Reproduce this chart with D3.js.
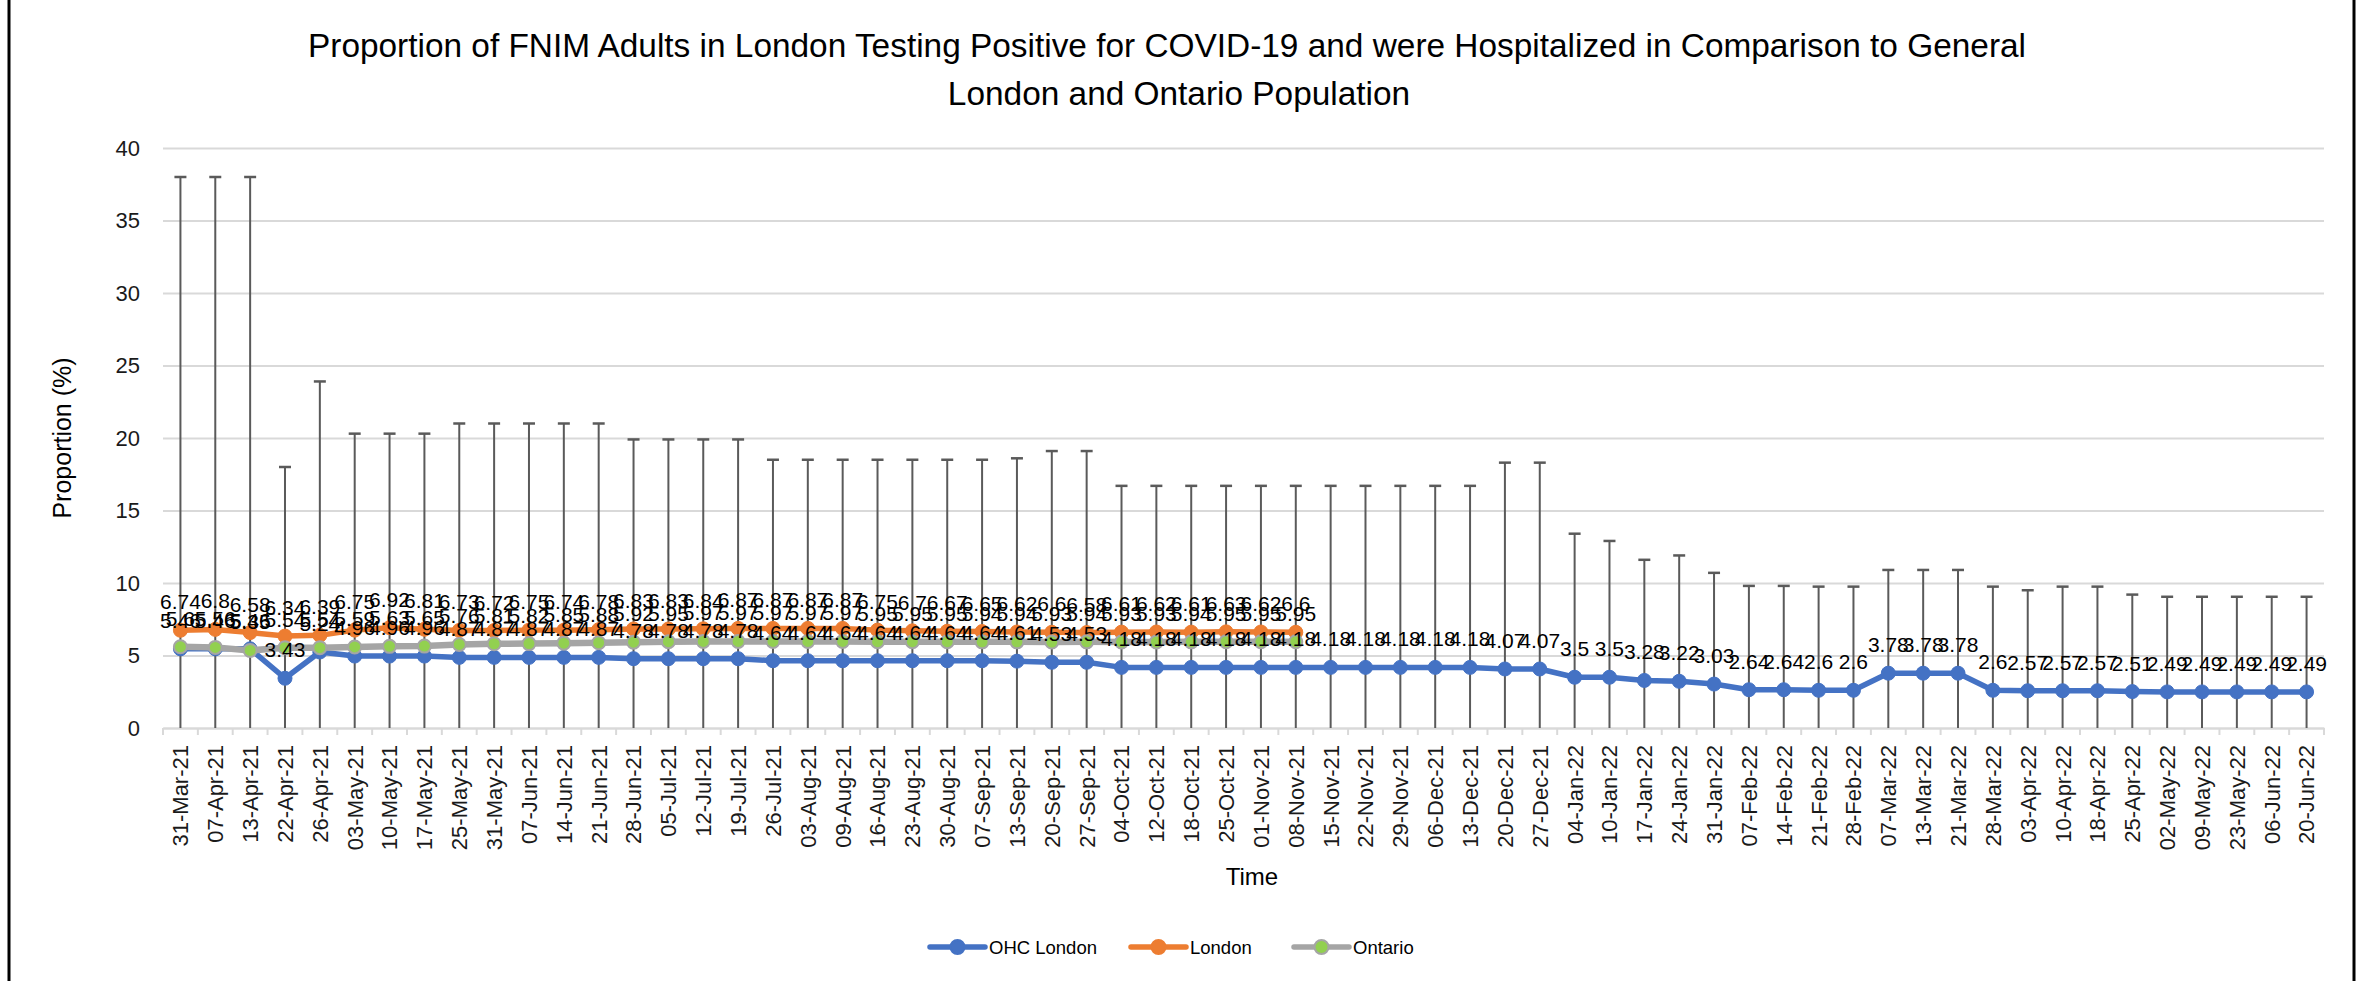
<!DOCTYPE html>
<html>
<head>
<meta charset="utf-8">
<script src="https://cdn.jsdelivr.net/npm/d3@7"></script>
<style>
  html, body { margin: 0; padding: 0; background: #fff; }
  svg { display: block; font-family: "Liberation Sans", Arial, sans-serif; }
</style>
</head>
<body>
<svg id="chart" width="2359" height="981"></svg>
<script>
// ---------------- DATA ----------------
const categories = [
  "31-Mar-21","07-Apr-21","13-Apr-21","22-Apr-21","26-Apr-21","03-May-21","10-May-21","17-May-21",
  "25-May-21","31-May-21","07-Jun-21","14-Jun-21","21-Jun-21","28-Jun-21","05-Jul-21","12-Jul-21",
  "19-Jul-21","26-Jul-21","03-Aug-21","09-Aug-21","16-Aug-21","23-Aug-21","30-Aug-21","07-Sep-21",
  "13-Sep-21","20-Sep-21","27-Sep-21","04-Oct-21","12-Oct-21","18-Oct-21","25-Oct-21","01-Nov-21",
  "08-Nov-21","15-Nov-21","22-Nov-21","29-Nov-21","06-Dec-21","13-Dec-21","20-Dec-21","27-Dec-21",
  "04-Jan-22","10-Jan-22","17-Jan-22","24-Jan-22","31-Jan-22","07-Feb-22","14-Feb-22","21-Feb-22",
  "28-Feb-22","07-Mar-22","13-Mar-22","21-Mar-22","28-Mar-22","03-Apr-22","10-Apr-22","18-Apr-22",
  "25-Apr-22","02-May-22","09-May-22","23-May-22","06-Jun-22","20-Jun-22"
];

const ohcLondon = [
  5.46, 5.46, 5.46, 3.43, 5.24, 4.96, 4.96, 4.96,
  4.87, 4.87, 4.87, 4.87, 4.87, 4.78, 4.78, 4.78,
  4.78, 4.64, 4.64, 4.64, 4.64, 4.64, 4.64, 4.64,
  4.61, 4.53, 4.53, 4.18, 4.18, 4.18, 4.18, 4.18,
  4.18, 4.18, 4.18, 4.18, 4.18, 4.18, 4.07, 4.07,
  3.5, 3.5, 3.28, 3.22, 3.03, 2.64, 2.64, 2.6,
  2.6, 3.78, 3.78, 3.78, 2.6, 2.57, 2.57, 2.57,
  2.51, 2.49, 2.49, 2.49, 2.49, 2.49
];

// upper bound of the OHC London error bars (bars run from 0 up to this value)
const ohcUpper = [
  38, 38, 38, 18, 23.9, 20.3, 20.3, 20.3,
  21, 21, 21, 21, 21, 19.9, 19.9, 19.9,
  19.9, 18.5, 18.5, 18.5, 18.5, 18.5, 18.5, 18.5,
  18.6, 19.1, 19.1, 16.7, 16.7, 16.7, 16.7, 16.7,
  16.7, 16.7, 16.7, 16.7, 16.7, 16.7, 18.3, 18.3,
  13.4, 12.9, 11.6, 11.9, 10.7, 9.8, 9.8, 9.75,
  9.75, 10.9, 10.9, 10.9, 9.75, 9.5, 9.75, 9.75,
  9.2, 9.05, 9.05, 9.05, 9.05, 9.05
];

const london = [
  6.74, 6.8, 6.58, 6.34, 6.39, 6.75, 6.92, 6.81,
  6.73, 6.72, 6.75, 6.74, 6.78, 6.83, 6.83, 6.84,
  6.87, 6.87, 6.87, 6.87, 6.75, 6.7, 6.67, 6.65,
  6.62, 6.6, 6.58, 6.61, 6.62, 6.61, 6.63, 6.62,
  6.6
];

const ontario = [
  5.6, 5.56, 5.35, 5.54, 5.54, 5.59, 5.63, 5.65,
  5.76, 5.81, 5.82, 5.85, 5.88, 5.92, 5.95, 5.97,
  5.97, 5.97, 5.97, 5.97, 5.95, 5.95, 5.95, 5.94,
  5.94, 5.93, 5.94, 5.93, 5.93, 5.94, 5.95, 5.95,
  5.95
];

const yTicks = [0, 5, 10, 15, 20, 25, 30, 35, 40];
const seriesNames = ["OHC London", "London", "Ontario"];
const titleLines = [
  "Proportion of FNIM Adults in London Testing Positive for COVID-19 and were Hospitalized in Comparison to General",
  "London and Ontario Population"
];

// ---------------- LAYOUT ----------------
const W = 2359, H = 981;
const plot = { left: 163, right: 2324, top: 148, bottom: 728 };
const svg = d3.select("#chart");

const x = d3.scaleBand().domain(categories).range([plot.left, plot.right]).padding(0);
const cx = c => x(c) + x.bandwidth() / 2;
const y = d3.scaleLinear().domain([0, 40]).range([plot.bottom, plot.top]);

const colors = { blue: "#4472C4", orange: "#ED7D31", grey: "#A5A5A5", green: "#92D050" };

// frame lines (outer chart border)
svg.append("line").attr("x1", 9).attr("x2", 9).attr("y1", 0).attr("y2", H)
  .attr("stroke", "#000").attr("stroke-width", 3);
svg.append("line").attr("x1", 2354).attr("x2", 2354).attr("y1", 0).attr("y2", H)
  .attr("stroke", "#000").attr("stroke-width", 3);

// ---------------- Y AXIS + GRID ----------------
const yAxis = d3.axisLeft(y).tickValues(yTicks).tickSize(-(plot.right - plot.left)).tickPadding(23);
const gy = svg.append("g").attr("transform", `translate(${plot.left},0)`).call(yAxis);
gy.select(".domain").remove();
gy.selectAll(".tick line").attr("stroke", "#d9d9d9").attr("stroke-width", 2);
gy.selectAll(".tick text").attr("font-size", 22).attr("fill", "#1a1a1a")
  .attr("font-family", "'Liberation Sans', Arial, sans-serif");

// ---------------- X AXIS ----------------
const bounds = categories.map(c => x(c)).concat([plot.right]);
svg.append("g").selectAll("line").data(bounds).join("line")
  .attr("x1", d => d).attr("x2", d => d)
  .attr("y1", plot.bottom).attr("y2", plot.bottom + 7)
  .attr("stroke", "#d9d9d9").attr("stroke-width", 2);

const xAxis = d3.axisBottom(x).tickSize(0).tickPadding(0);
const gx = svg.append("g").attr("transform", `translate(0,${plot.bottom})`).call(xAxis);
gx.select(".domain").attr("stroke", "#d9d9d9").attr("stroke-width", 2);
gx.selectAll(".tick text")
  .attr("font-size", 22).attr("fill", "#1a1a1a")
  .attr("font-family", "'Liberation Sans', Arial, sans-serif")
  .attr("text-anchor", "end")
  .attr("transform", "translate(0,17) rotate(-90)")
  .attr("x", 0).attr("y", 0).attr("dy", "0.36em");

// ---------------- ERROR BARS (OHC London) ----------------
const eb = svg.append("g");
categories.forEach((c, i) => {
  const xx = cx(c);
  eb.append("line").attr("x1", xx).attr("x2", xx)
    .attr("y1", y(0)).attr("y2", y(ohcUpper[i]))
    .attr("stroke", "#5a5a5a").attr("stroke-width", 2);
  eb.append("line").attr("x1", xx - 6).attr("x2", xx + 6)
    .attr("y1", y(ohcUpper[i])).attr("y2", y(ohcUpper[i]))
    .attr("stroke", "#5a5a5a").attr("stroke-width", 2.5);
});

// ---------------- LINES ----------------
function drawSeries(values, stroke, lineW, markerFill, markerStroke, markerStrokeW, r) {
  const pts = values.map((v, i) => [cx(categories[i]), y(v)]);
  const g = svg.append("g");
  g.append("path").attr("d", d3.line()(pts))
    .attr("fill", "none").attr("stroke", stroke).attr("stroke-width", lineW)
    .attr("stroke-linejoin", "round").attr("stroke-linecap", "round");
  g.selectAll("circle").data(pts).join("circle")
    .attr("cx", d => d[0]).attr("cy", d => d[1]).attr("r", r)
    .attr("fill", markerFill)
    .attr("stroke", markerStroke).attr("stroke-width", markerStrokeW);
  return pts;
}
const ptsBlue = drawSeries(ohcLondon, colors.blue, 5.5, colors.blue, colors.blue, 1, 7);
const ptsOrange = drawSeries(london, colors.orange, 5.5, colors.orange, colors.orange, 1, 7);
const ptsGrey = drawSeries(ontario, colors.grey, 6.5, colors.green, colors.grey, 2, 6.5);

// ---------------- DATA LABELS ----------------
const lbl = svg.append("g").attr("font-size", 21).attr("fill", "#000")
  .attr("text-anchor", "middle").attr("font-family", "'Liberation Sans', Arial, sans-serif");
function labels(values, pts) {
  values.forEach((v, i) => {
    lbl.append("text").attr("x", pts[i][0]).attr("y", pts[i][1] - 21).text(String(v));
  });
}
labels(ohcLondon, ptsBlue);
labels(london, ptsOrange);
labels(ontario, ptsGrey);

// ---------------- TITLES ----------------
const t1 = svg.append("text").attr("x", 1167).attr("y", 57).attr("text-anchor", "middle")
  .attr("font-size", 30).attr("fill", "#000").text(titleLines[0]);
const w1 = t1.node().getComputedTextLength();
const titleFs = 30 * 1719 / w1;
t1.attr("font-size", titleFs);
svg.append("text").attr("x", 1179).attr("y", 105).attr("text-anchor", "middle")
  .attr("font-size", titleFs).attr("fill", "#000").text(titleLines[1]);

svg.append("text").attr("x", 1252).attr("y", 885).attr("text-anchor", "middle")
  .attr("font-size", 24).attr("fill", "#000").text("Time");

svg.append("text").attr("transform", "translate(71,438) rotate(-90)").attr("text-anchor", "middle")
  .attr("font-size", 25).attr("fill", "#000").text("Proportion (%)");

// ---------------- LEGEND ----------------
const legendItems = [
  { name: seriesNames[0], stroke: colors.blue, fill: colors.blue, mstroke: colors.blue, x: 930 },
  { name: seriesNames[1], stroke: colors.orange, fill: colors.orange, mstroke: colors.orange, x: 1131 },
  { name: seriesNames[2], stroke: colors.grey, fill: colors.green, mstroke: colors.grey, x: 1294 }
];
const lg = svg.append("g");
legendItems.forEach(it => {
  const g = lg.append("g").attr("transform", `translate(${it.x},947)`);
  g.append("line").attr("x1", 0).attr("x2", 55).attr("y1", 0).attr("y2", 0)
    .attr("stroke", it.stroke).attr("stroke-width", 5.5).attr("stroke-linecap", "round");
  g.append("circle").attr("cx", 27.5).attr("cy", 0).attr("r", 7)
    .attr("fill", it.fill).attr("stroke", it.mstroke).attr("stroke-width", 2);
  g.append("text").attr("x", 59).attr("y", 0).attr("dy", "0.36em")
    .attr("font-size", 18.5).attr("fill", "#000").text(it.name);
});
</script>
</body>
</html>
